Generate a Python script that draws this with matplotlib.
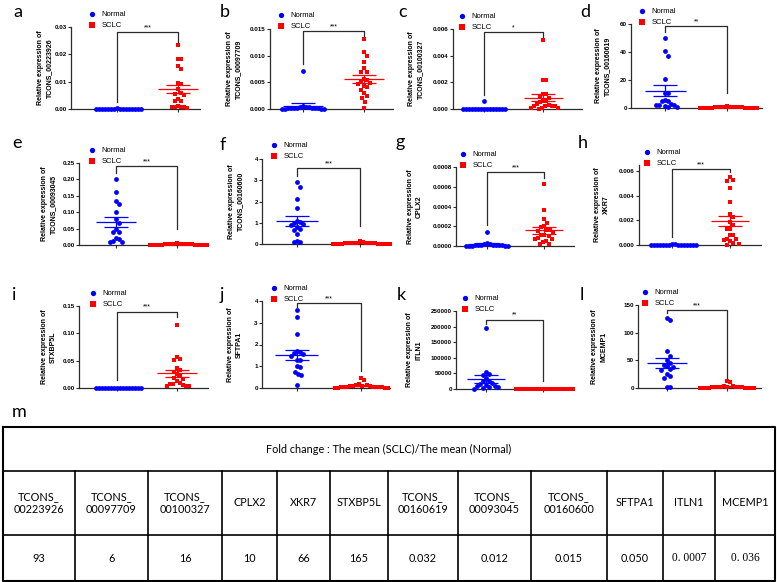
import matplotlib

matplotlib.use("Agg")
import matplotlib.pyplot as plt
import numpy as np

plt.rcParams["font.family"] = ["Liberation Sans", "DejaVu Sans"]

W, H = 777, 582
GROUPS = ["Normal", "SCLC"]
BLUE, RED = "#0000ff", "#ff0000"

# ---------- data (relative expression per sample) ----------
normal_a = [0.0002, 0.0001, 0.0001, 0.0001, 0.0001, 0.0001, 0.0, 0.0, 0.0, 0.0, 0.0, 0.0, 0.0, 0.0, 0.0, 0.0]
sclc_a = [0.0233, 0.0183, 0.0182, 0.0158, 0.0146, 0.0095, 0.0091, 0.0072, 0.0060, 0.0055,
          0.0053, 0.0036, 0.0030, 0.0029, 0.0010, 0.0008, 0.0007, 0.0007, 0.0006, 0.0005]

normal_b = [0.0072, 0.0006, 0.0004, 0.0003, 0.0003, 0.0002, 0.0002, 0.0001, 0.0001, 0.0001,
            0.0001, 0.0001, 0.0, 0.0, 0.0, 0.0]
sclc_b = [0.0132, 0.0107, 0.0099, 0.0089, 0.0077, 0.0069, 0.0069, 0.0057, 0.0055, 0.0053,
          0.0049, 0.0047, 0.0044, 0.0041, 0.0036, 0.0030, 0.0025, 0.0020, 0.0014, 0.0001]

normal_c = [0.0006, 0.00003, 0.00002, 0.00002, 0.00001, 0.00001, 0.00001, 0.0, 0.0, 0.0,
            0.0, 0.0, 0.0, 0.0, 0.0, 0.0]
sclc_c = [0.0052, 0.0022, 0.0022, 0.0011, 0.0011, 0.0010, 0.0008, 0.0006, 0.0006, 0.0005,
          0.0004, 0.0003, 0.0002, 0.0002, 0.0002, 0.0002, 0.0001, 0.0001, 0.0001, 0.0]

normal_d = [50, 41, 37.5, 21, 11, 10.5, 6, 5, 5, 3, 2.5, 2, 2, 1.5, 1, 0.5]
sclc_d = [1.2, 1.0, 0.9, 0.8, 0.7, 0.6, 0.5, 0.5, 0.4, 0.4, 0.3, 0.3, 0.2, 0.2, 0.2, 0.1,
          0.1, 0.1, 0.05, 0.0]

normal_e = [0.200, 0.161, 0.133, 0.125, 0.100, 0.080, 0.066, 0.050, 0.041, 0.041, 0.020,
            0.017, 0.012, 0.010, 0.010]
sclc_e = [0.005, 0.004, 0.004, 0.003, 0.003, 0.003, 0.002, 0.002, 0.002, 0.002, 0.001,
          0.001, 0.001, 0.001, 0.001, 0.001, 0.0005, 0.0005, 0.0, 0.0]

normal_f = [2.9, 2.7, 2.1, 1.7, 1.1, 1.05, 1.0, 0.95, 0.9, 0.8, 0.7, 0.65, 0.45, 0.15, 0.1, 0.08]
sclc_f = [0.12, 0.09, 0.07, 0.06, 0.05, 0.05, 0.04, 0.04, 0.03, 0.03, 0.03, 0.02, 0.02,
          0.02, 0.01, 0.01, 0.01, 0.01, 0.0, 0.0]

normal_g = [0.000137, 0.000030, 0.000020, 0.000018, 0.000015, 0.000012, 0.000010, 0.000010,
            0.000008, 0.000008, 0.000006, 0.000005, 0.000004, 0.000003, 0.000002, 0.000001]
sclc_g = [0.00063, 0.00036, 0.00027, 0.00023, 0.00020, 0.00019, 0.00016, 0.00016, 0.00015,
          0.00014, 0.00011, 0.00011, 0.00010, 0.00008, 0.00007, 0.00007, 0.00005, 0.00004,
          0.00002, 0.00002]

normal_h = [0.00008, 0.00005, 0.00004, 0.00003, 0.00003, 0.00002, 0.00002, 0.00001, 0.00001,
            0.00001, 0.00001, 0.0, 0.0, 0.0, 0.0, 0.0]
sclc_h = [0.0055, 0.0053, 0.0052, 0.0046, 0.0035, 0.0025, 0.0023, 0.0019, 0.0016, 0.0013,
          0.0013, 0.0008, 0.0008, 0.0005, 0.0005, 0.0004, 0.0003, 0.0002, 0.0001, 0.0]

normal_i = [0.0003, 0.0002, 0.0002, 0.0001, 0.0001, 0.0001, 0.0001, 0.0, 0.0, 0.0, 0.0, 0.0,
            0.0, 0.0, 0.0, 0.0]
sclc_i = [0.116, 0.056, 0.053, 0.051, 0.036, 0.033, 0.030, 0.025, 0.022, 0.018, 0.016,
          0.012, 0.009, 0.008, 0.008, 0.005, 0.004, 0.003, 0.003]

normal_j = [3.6, 3.28, 2.48, 1.7, 1.65, 1.6, 1.55, 1.45, 1.3, 1.3, 1.0, 0.95, 0.75, 0.65, 0.62, 0.15]
sclc_j = [0.45, 0.35, 0.18, 0.15, 0.12, 0.10, 0.10, 0.08, 0.07, 0.06, 0.05, 0.05, 0.04,
          0.04, 0.03, 0.03, 0.02, 0.02, 0.01, 0.01]

normal_k = [196000, 56000, 48000, 45000, 35000, 27000, 25000, 18000, 16000, 13000, 10000,
            9000, 8000, 6000, 3000, 1000]
sclc_k = [1500, 1200, 1000, 900, 800, 700, 600, 500, 400, 400, 300, 300, 200, 200, 100,
          100, 100, 50, 0, 0]

normal_l = [127, 123, 67, 58, 51, 46, 42, 40, 38, 34, 33, 26, 22, 18, 2, 1.5]
sclc_l = [12, 10, 4, 3, 2.5, 2, 2, 1.5, 1.5, 1, 1, 1, 0.5, 0.5, 0.5, 0.3, 0.2, 0.1, 0.1, 0]

letters = list("abcdefghijkl")
genes = ["TCONS_00223926", "TCONS_00097709", "TCONS_00100327", "TCONS_00160619",
         "TCONS_00093045", "TCONS_00160600", "CPLX2", "XKR7",
         "STXBP5L", "SFTPA1", "ITLN1", "MCEMP1"]
normals = [normal_a, normal_b, normal_c, normal_d, normal_e, normal_f,
           normal_g, normal_h, normal_i, normal_j, normal_k, normal_l]
sclcs = [sclc_a, sclc_b, sclc_c, sclc_d, sclc_e, sclc_f,
         sclc_g, sclc_h, sclc_i, sclc_j, sclc_k, sclc_l]
stars = ["***", "***", "*", "**", "***", "***", "***", "***", "***", "***", "**", "***"]
yticks = [[0, 0.01, 0.02, 0.03], [0, 0.005, 0.010, 0.015], [0, 0.002, 0.004, 0.006],
          [0, 20, 40, 60], [0, 0.05, 0.10, 0.15, 0.20, 0.25], [0, 1, 2, 3, 4],
          [0, 0.0002, 0.0004, 0.0006, 0.0008], [0, 0.002, 0.004, 0.006],
          [0, 0.05, 0.10, 0.15], [0, 1, 2, 3, 4],
          [0, 50000, 100000, 150000, 200000, 250000], [0, 50, 100, 150]]
ytick_fmt = ["%.2f", "%.3f", "%.3f", "%d", "%.2f", "%d", "%.4f", "%.3f", "%.2f", "%d", "%d", "%d"]

# bracket levels (top, Normal foot, SCLC foot) in data units
brackets = [(0.028, 0.0027, 0.0246), (0.01456, 0.0084, 0.0136), (0.00575, 0.00105, 0.0054),
            (58.3, 54.3, 10.7), (0.240, 0.219, 0.048), (3.56, 3.2, 0.83),
            (0.00075, 0.00021, 0.00069), (0.00616, 0.00065, 0.0059), (0.1398, 0.015, 0.1307),
            (3.89, 3.71, 0.78), (222600, 209700, 26900), (141, 135, 10.8)]

fold_genes = ["TCONS_\n00223926", "TCONS_\n00097709", "TCONS_\n00100327", "CPLX2", "XKR7",
              "STXBP5L", "TCONS_\n00160619", "TCONS_\n00093045", "TCONS_\n00160600",
              "SFTPA1", "ITLN1", "MCEMP1"]
fold_change = ["93", "6", "16", "10", "66", "165", "0.032", "0.012", "0.015", "0.050",
               "0. 0007", "0. 036"]
table_title = "Fold change : The mean (SCLC)/The mean (Normal)"

# ---------- layout (pixels of the 777x582 canvas) ----------
rects = [(71, 27, 200, 109), (270, 29, 393, 109), (453, 29, 582, 109), (631, 24, 762, 108),
         (79, 163, 208, 245), (262, 159, 390, 244), (456, 167, 574, 246), (639, 165, 761, 245),
         (79, 306, 208, 388), (262, 301, 390, 388), (456, 311, 574, 389), (638, 305, 761, 388)]
xlims = [(0.244, 2.363), (0.460, 2.476), (0.476, 2.659), (0.450, 2.564),
         (0.393, 2.507), (0.446, 2.474), (0.456, 2.526), (0.433, 2.534),
         (0.366, 2.516), (0.460, 2.460), (0.474, 2.544), (0.512, 2.578)]
ymaxs = [0.03, 0.015, 0.006, 60, 0.25, 4, 0.0008, 0.0065, 0.15, 4, 250000, 150]
legend_at = [(89, 11), (278, 12), (459, 13), (639, 8), (89, 147), (271, 142), (460, 151),
             (644, 149), (90, 290), (271, 285), (462, 295), (642, 289)]
ylabel_off = [18, 28, 29, 20, 22, 18, 33, 29, 22, 19, 34, 31]
letter_at = [(13, 17), (220, 17), (398, 17), (580, 17), (12, 148), (220, 150), (395, 147),
             (578, 148), (12, 300), (220, 300), (397, 300), (580, 300)]
col_edges = [3, 75, 148, 222, 277, 330, 388, 458, 531, 607, 663, 715, 775]
row_edges = [427, 471, 535, 581]


def swarm(vals, center, xlim, ymax, w_px, h_px, dx=3.0, dy=6.0):
    """Prism-like scatter: points closer than an ellipse (dx, dy px) spread sideways.
    Highest values are placed first so the crowded rows near zero flow around them."""
    sx = w_px / (xlim[1] - xlim[0])
    sy = h_px / ymax
    step = dx / 2
    placed = []
    xs = np.empty(len(vals))
    for i in np.argsort(-np.asarray(vals), kind="stable"):
        y = vals[i] * sy
        k = 0
        while True:
            off = ((k + 1) // 2) * step * (1 if k % 2 else -1)
            if all(((off - px) / dx) ** 2 + ((y - py) / dy) ** 2 >= 0.98
                   for px, py in placed):
                break
            k += 1
        placed.append((off, y))
        xs[i] = center + off / sx
    return xs


fig = plt.figure(figsize=(W / 100, H / 100), dpi=100)
bg = fig.add_axes([0, 0, 1, 1])
bg.set_xlim(0, W)
bg.set_ylim(H, 0)
bg.axis("off")

for n in range(12):
    l, t, r, b = rects[n]
    ax = fig.add_axes([l / W, 1 - b / H, (r - l) / W, (b - t) / H])
    ax.set_xlim(*xlims[n])
    ax.set_ylim(0, ymaxs[n])
    handles = []
    for g, (vals, color, marker, s) in enumerate([(normals[n], BLUE, "o", 12),
                                                  (sclcs[n], RED, "s", 11)]):
        vals = np.asarray(vals, dtype=float)
        pos = g + 1
        xs = swarm(vals, pos, xlims[n], ymaxs[n], r - l, b - t)
        h = ax.scatter(xs, vals, s=s, c=color, marker=marker, linewidths=0,
                       clip_on=False, zorder=3)
        handles.append(h)
        m = vals.mean()
        se = vals.std(ddof=1) / np.sqrt(len(vals))
        ax.hlines(m, pos - 0.33, pos + 0.33, color=color, lw=0.9, zorder=4)
        ax.errorbar(pos, m, yerr=se, color=color, capsize=8.5, lw=0.9, capthick=0.9,
                    zorder=4)

    top, nb, sb = brackets[n]
    ax.plot([1, 1, 2, 2], [nb, top, top, sb], color="#2b2b2b", lw=0.9, clip_on=False)
    ax.text(1.5, top + ymaxs[n] * 0.01, stars[n], ha="center", va="bottom", fontsize=5)

    ax.spines[["top", "right"]].set_visible(False)
    for sp in ("left", "bottom"):
        ax.spines[sp].set_linewidth(0.9)
        ax.spines[sp].set_color("#2b2b2b")
    ax.set_xticks([1, 2])
    ax.set_xticklabels([])
    ax.set_yticks(yticks[n])
    ax.set_yticklabels([ytick_fmt[n] % v for v in yticks[n]], fontsize=4.5,
                       fontweight="bold")
    ax.tick_params(length=2, width=0.8, pad=1, color="#2b2b2b")
    ax.set_ylabel("Relative expression of\n" + genes[n], fontsize=5, fontweight="bold",
                  linespacing=1.4)
    ax.yaxis.set_label_coords(-ylabel_off[n] / (r - l), 0.5)

    lx, ly = legend_at[n]
    ax.legend(handles, GROUPS, loc="upper left", bbox_to_anchor=(lx / W, 1 - ly / H),
              bbox_transform=fig.transFigure, frameon=False, fontsize=5.5,
              handlelength=0.8, handletextpad=0.8, borderpad=0, labelspacing=0.45,
              borderaxespad=0, scatterpoints=1, markerscale=1.1)

    bg.text(*letter_at[n], letters[n], fontsize=13, family="Lato", va="baseline")

bg.text(12, 417, "m", fontsize=13, family="Lato", va="baseline")

# ---------- fold-change table ----------
x0, x1 = col_edges[0], col_edges[-1]
bg.plot([x0, x1, x1, x0, x0], [row_edges[0], row_edges[0], row_edges[-1], row_edges[-1],
                               row_edges[0]], color="black", lw=1.5)
for y in row_edges[1:-1]:
    bg.plot([x0, x1], [y, y], color="black", lw=1.2)
for x in col_edges[1:-1]:
    bg.plot([x, x], [row_edges[1], row_edges[-1]], color="black", lw=1.2)

bg.text((x0 + x1) / 2, (row_edges[0] + row_edges[1]) / 2, table_title, ha="center",
        va="center", fontsize=7.8, family="Lato")
for c in range(12):
    xm = (col_edges[c] + col_edges[c + 1]) / 2
    bg.text(xm, (row_edges[1] + row_edges[2]) / 2, fold_genes[c], ha="center", va="center",
            fontsize=7.8, family="Lato", linespacing=1.3)
    serif = fold_change[c].startswith("0. ")
    bg.text(xm, (row_edges[2] + row_edges[3]) / 2, fold_change[c], ha="center", va="center",
            fontsize=8.3 if serif else 7.8,
            family="Liberation Serif" if serif else "Lato")

fig.savefig("out.png", dpi=100)
